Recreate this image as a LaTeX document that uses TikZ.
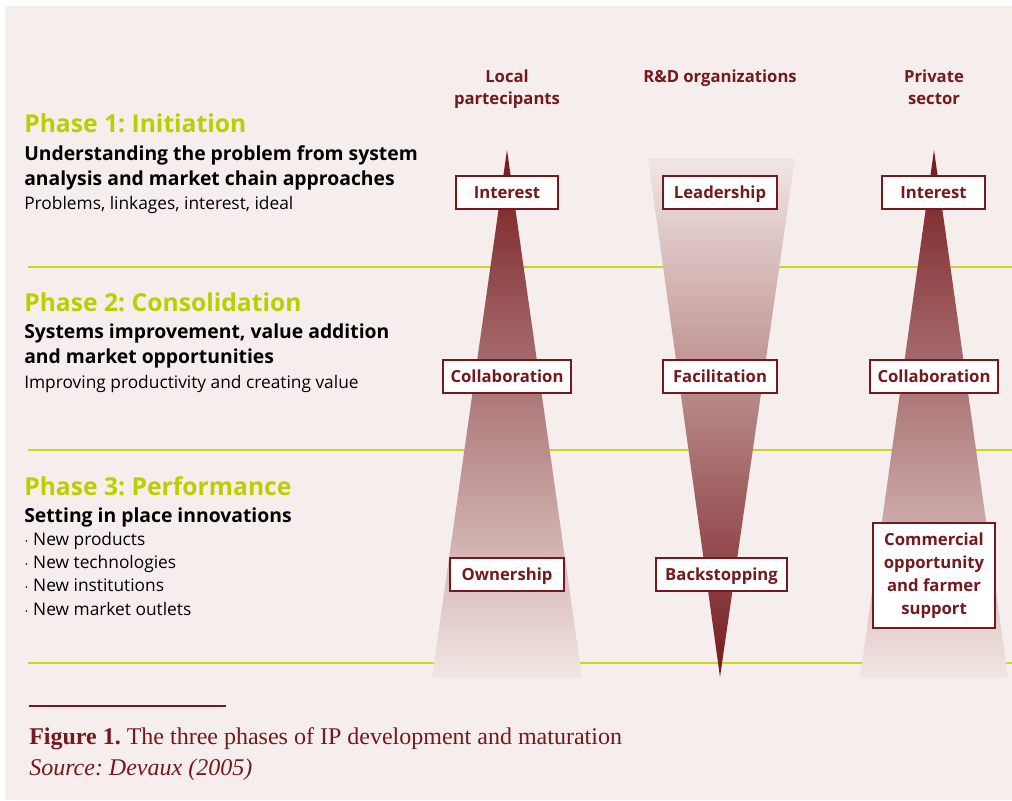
\documentclass[tikz,border=0pt]{standalone}
\usepackage{fontspec}
\setmainfont{Liberation Serif}
\setsansfont{Open Sans}
\usetikzlibrary{positioning}
\frenchspacing

\definecolor{bgpink}{HTML}{F6EEEC}
\definecolor{ipred}{HTML}{74191D}
\definecolor{phasegreen}{HTML}{BDCE00}
\definecolor{limeline}{HTML}{CBD71A}
\definecolor{fade}{HTML}{F1E6E3}

\tikzset{
  phase/.style={anchor=base west, inner sep=0pt, text=phasegreen, font=\sffamily\bfseries\fontsize{18.5}{22}\selectfont},
  goal/.style={anchor=base west, inner sep=0pt, align=left, font=\sffamily\bfseries\fontsize{14.5}{18.75}\selectfont},
  detail/.style={anchor=base west, inner sep=0pt, align=left, font=\sffamily\fontsize{13}{17.5}\selectfont},
  actor/.style={anchor=base, inner sep=0pt, align=center, text=ipred, font=\sffamily\bfseries\fontsize{12.5}{16.5}\selectfont},
  roleframe/.style={draw=ipred, line width=1.4pt, fill=white, text=ipred, inner sep=0pt, align=center, font=\sffamily\bfseries\fontsize{12.5}{17.25}\selectfont},
  role/.style={roleframe, minimum height=24.75pt, text height=11.5pt, text depth=2.5pt},
  phaseline/.style={draw=limeline, line width=1.5pt}
}

\begin{document}
\begin{tikzpicture}[x=0.75pt, y=-0.75pt]
\useasboundingbox (0,0) rectangle (1012,800);
\fill[bgpink] (5,6) rectangle (1012,800);

%phase borders
\draw[phaseline] (28,267) -- (1012,267);
\draw[phaseline] (28,450) -- (1012,450);
\draw[phaseline] (28,663) -- (1012,663);

%Local participants
\shade[top color=ipred, bottom color=fade] (507,150) -- (582,678) -- (432,678) -- cycle;
%R&D organizations
\shade[top color=fade, bottom color=ipred] (648,158) -- (795,158) -- (720,677) -- cycle;
%Private sector
\shade[top color=ipred, bottom color=fade] (934,150) -- (1008,678) -- (860,678) -- cycle;

%actors (multi-line nodes sit on their last baseline)
\node[actor] (local) at (507,104) {Local\\partecipants};
\node[actor] (rnd) at (720,82) {R\&D organizations};
\node[actor] (private) at (934,104) {Private\\sector};

%Phase 1
\node[phase] (p1) at (24,132) {Phase 1: Initiation};
\node[goal] (p1goal) at (24,185) {Understanding the problem from system\\analysis and market chain approaches};
\node[detail] (p1det) at (24,209) {Problems, linkages, interest, ideal};

%Phase 2
\node[phase] (p2) at (24,311) {Phase 2: Consolidation};
\node[goal] (p2goal) at (24,363) {Systems improvement, value addition\\and market opportunities};
\node[detail] (p2det) at (24,388) {Improving productivity and creating value};

%Phase 3
\node[phase] (p3) at (24,495) {Phase 3: Performance};
\node[goal] (p3goal) at (24,522) {Setting in place innovations};
\node[detail] (p3det) at (24,615) {$\cdot$ New products\\$\cdot$ New technologies\\$\cdot$ New institutions\\$\cdot$ New market outlets};

%roles, phase 1
\node[role, minimum width=76.5pt] (interestL) at (507,192.5) {Interest};
\node[role, minimum width=85.5pt] (lead) at (720,192.5) {Leadership};
\node[role, minimum width=77pt] (interestP) at (933.5,192.5) {Interest};

%roles, phase 2
\node[role, minimum width=96pt] (collabL) at (507,376.5) {Collaboration};
\node[role, minimum width=85.5pt] (facil) at (720,376.5) {Facilitation};
\node[role, minimum width=96pt] (collabP) at (934,376.5) {Collaboration};

%roles, phase 3
\node[role, minimum width=85.5pt] (owner) at (507,574.5) {Ownership};
\node[role, minimum width=98pt] (backstop) at (721.5,574.5) {Backstopping};
\node[roleframe, minimum width=91.5pt, minimum height=79pt] (commerce) at (934,575.5) {Commercial\\opportunity\\and farmer\\support};

%caption
\draw[ipred, line width=2pt] (29,706) -- (226,706);
\node[anchor=base west, inner sep=0pt, text=ipred, font=\fontsize{18}{20}\selectfont] (caption) at (29,744) {\textbf{Figure 1.} The three phases of IP development and maturation};
\node[anchor=base west, inner sep=0pt, text=ipred, font=\itshape\fontsize{18}{20}\selectfont] (source) at (29,775) {Source: Devaux (2005)};
\end{tikzpicture}
\end{document}
